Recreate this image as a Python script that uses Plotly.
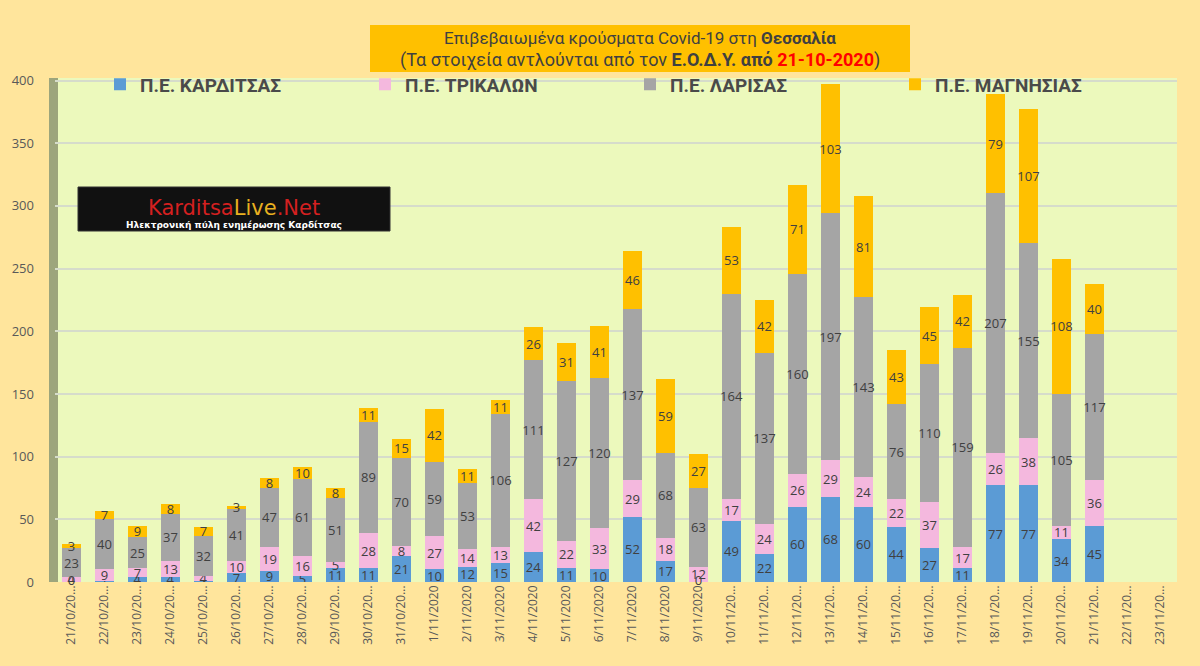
import plotly.graph_objects as go

# ημερομηνίες όπως εμφανίζονται στον άξονα
dates = ["21/10/20...", "22/10/20...", "23/10/20...", "24/10/20...", "25/10/20...",
         "26/10/20...", "27/10/20...", "28/10/20...", "29/10/20...", "30/10/20...",
         "31/10/20...", "1/11/2020", "2/11/2020", "3/11/2020", "4/11/2020",
         "5/11/2020", "6/11/2020", "7/11/2020", "8/11/2020", "9/11/2020",
         "10/11/20...", "11/11/20...", "12/11/20...", "13/11/20...", "14/11/20...",
         "15/11/20...", "16/11/20...", "17/11/20...", "18/11/20...", "19/11/20...",
         "20/11/20...", "21/11/20...", "22/11/20...", "23/11/20..."]

karditsa = [0, 1, 4, 4, 1, 7, 9, 5, 11, 11, 21, 10, 12, 15, 24, 11, 10, 52, 17, 0,
            49, 22, 60, 68, 60, 44, 27, 11, 77, 77, 34, 45, None, None]
trikala = [4, 9, 7, 13, 4, 10, 19, 16, 5, 28, 8, 27, 14, 13, 42, 22, 33, 29, 18, 12,
           17, 24, 26, 29, 24, 22, 37, 17, 26, 38, 11, 36, None, None]
larisa = [23, 40, 25, 37, 32, 41, 47, 61, 51, 89, 70, 59, 53, 106, 111, 127, 120, 137, 68, 63,
          164, 137, 160, 197, 143, 76, 110, 159, 207, 155, 105, 117, None, None]
magnisia = [3, 7, 9, 8, 7, 3, 8, 10, 8, 11, 15, 42, 11, 11, 26, 31, 41, 46, 59, 27,
            53, 42, 71, 103, 81, 43, 45, 42, 79, 107, 108, 40, None, None]

series = [
    ("Π.Ε. ΚΑΡΔΙΤΣΑΣ", karditsa, "#5B9BD5"),
    ("Π.Ε. ΤΡΙΚΑΛΩΝ", trikala, "#F4B8DE"),
    ("Π.Ε. ΛΑΡΙΣΑΣ", larisa, "#A5A5A5"),
    ("Π.Ε. ΜΑΓΝΗΣΙΑΣ", magnisia, "#FFC000"),
]

FONT = "Roboto, sans-serif"
LABEL_FONT = dict(family="Open Sans, sans-serif", size=13, color="#404040")

# μετατροπή pixel -> paper για το πλαίσιο του γραφήματος
L, T, W, H = 55, 78, 1122, 504


def px(x):
    return (x - L) / W


def py(y):
    return (T + H - y) / H


fig = go.Figure()
for name, vals, color in series:
    fig.add_trace(go.Bar(
        x=dates, y=vals, name=name,
        marker=dict(color=color, line=dict(width=0)),
        text=[("" if v is None else str(v)) for v in vals],
        textposition="inside", insidetextanchor="middle", textangle=0,
        textfont=LABEL_FONT,
    ))

# οι μηδενικές τιμές δεν έχουν ύψος, οπότε η ετικέτα μπαίνει χωριστά
zero_x = [d for d, v in zip(dates, karditsa) if v == 0]
fig.add_trace(go.Scatter(
    x=zero_x, y=[0] * len(zero_x), mode="text",
    text=["0"] * len(zero_x), textposition="middle center",
    textfont=LABEL_FONT, showlegend=False, hoverinfo="skip", cliponaxis=False,
))

fig.update_layout(
    width=1200, height=666,
    barmode="stack", bargap=0.45,
    paper_bgcolor="#FFE59C",
    plot_bgcolor="#ECF9BC",
    margin=dict(l=L, r=1200 - L - W, t=T, b=666 - T - H),
    uniformtext=dict(minsize=13, mode="show"),
    showlegend=True,
    legend=dict(
        orientation="h", x=px(100), y=1.025, xanchor="left", yanchor="top",
        entrywidth=220, entrywidthmode="pixels",
        bgcolor="rgba(0,0,0,0)",
        font=dict(family=FONT, size=19, color="#4A4A4A", weight="bold"),
        traceorder="normal",
    ),
    xaxis=dict(
        type="category", categoryorder="array", categoryarray=dates,
        range=[-0.5, len(dates) - 0.5],
        tickangle=-90,
        tickfont=dict(family="Open Sans, sans-serif", size=12, color="#595959"),
        showgrid=False, zeroline=False, showline=False,
    ),
    yaxis=dict(
        range=[0, 402], tickvals=[0, 50, 100, 150, 200, 250, 300, 350, 400],
        tickfont=dict(family="Open Sans, sans-serif", size=13, color="#595959"),
        gridcolor="#D6DCCB", gridwidth=1.5, zeroline=False, showline=False,
        ticklabelstandoff=20,
    ),
)

# αριστερός "τοίχος" του 3D γραφήματος
fig.add_shape(type="rect", xref="paper", yref="paper",
              x0=px(49), x1=px(58), y0=0, y1=1.0,
              fillcolor="#9DA57C", line=dict(width=0), layer="below")

# πλαίσιο τίτλου
fig.add_shape(type="rect", xref="paper", yref="paper",
              x0=px(370), x1=px(910), y0=py(72), y1=py(25),
              fillcolor="#FFC000", line=dict(width=0))
fig.add_annotation(
    xref="paper", yref="paper", x=px(640), y=py(38), xanchor="center", yanchor="middle",
    text="Επιβεβαιωμένα κρούσματα Covid-19 στη <b>Θεσσαλία</b>",
    showarrow=False, font=dict(family=FONT, size=17, color="#404040"),
)
fig.add_annotation(
    xref="paper", yref="paper", x=px(640), y=py(60), xanchor="center", yanchor="middle",
    text="(Τα στοιχεία αντλούνται από τον <b>Ε.Ο.Δ.Υ. από</b> "
         "<b><span style='color:#FF0000'>21-10-2020</span></b>)",
    showarrow=False, font=dict(family=FONT, size=18, color="#404040"),
)

# λογότυπο
fig.add_shape(type="rect", xref="paper", yref="paper",
              x0=px(78), x1=px(390), y0=py(231), y1=py(187),
              fillcolor="#111111", line=dict(color="#333333", width=1))
fig.add_annotation(
    xref="paper", yref="paper", x=px(234), y=py(208), xanchor="center", yanchor="middle",
    text="<span style='color:#D42020'>Karditsa</span><span style='color:#E8B020'>Live</span>"
         "<span style='color:#D42020'>.Net</span>",
    showarrow=False, font=dict(family="DejaVu Sans, sans-serif", size=21),
)
fig.add_annotation(
    xref="paper", yref="paper", x=px(234), y=py(225), xanchor="center", yanchor="middle",
    text="<b>Ηλεκτρονική πύλη ενημέρωσης Καρδίτσας</b>",
    showarrow=False, font=dict(family="DejaVu Sans, sans-serif", size=9, color="#FFFFFF"),
)

fig.write_html("out.html", config={"displayModeBar": False},
               post_script="document.body.style.margin='0';")
